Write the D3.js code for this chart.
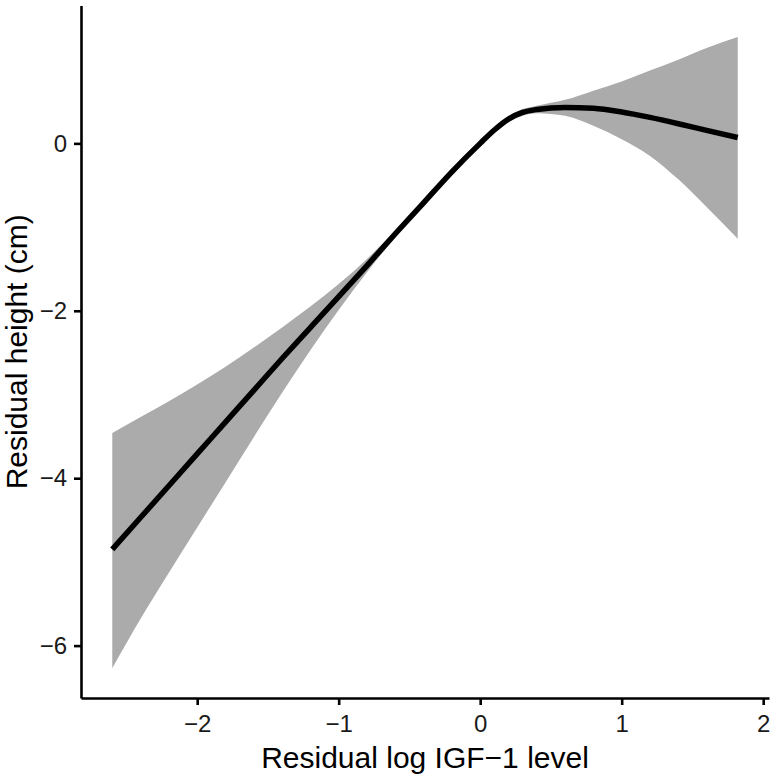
<!DOCTYPE html>
<html>
<head>
<meta charset="utf-8">
<script src="https://cdn.jsdelivr.net/npm/d3@7"></script>
<style>
  body { margin: 0; background: #fff; }
  text { font-family: "Liberation Sans", Arial, sans-serif; }
</style>
</head>
<body>
<div id="chart"></div>
<script>
// values
const xVals = [-2.6, -2.4, -2.2, -2.0, -1.8, -1.6, -1.4, -1.2, -1.0, -0.8, -0.6, -0.4, -0.2, 0, 0.1, 0.2, 0.3, 0.4, 0.6, 0.8, 1.0, 1.2, 1.4, 1.6, 1.82];
const fitVals = [-4.85, -4.47, -4.09, -3.71, -3.33, -2.95, -2.57, -2.20, -1.83, -1.46, -1.08, -0.71, -0.34, 0.0, 0.16, 0.29, 0.37, 0.405, 0.43, 0.42, 0.375, 0.31, 0.235, 0.155, 0.07];
const upperVals = [-3.46, -3.27, -3.08, -2.88, -2.67, -2.44, -2.20, -1.95, -1.68, -1.38, -1.04, -0.68, -0.32, 0.03, 0.19, 0.325, 0.41, 0.45, 0.52, 0.63, 0.74, 0.87, 1.00, 1.14, 1.27];
const lowerVals = [-6.27, -5.68, -5.13, -4.59, -4.05, -3.51, -2.98, -2.47, -1.99, -1.54, -1.12, -0.74, -0.38, -0.03, 0.13, 0.255, 0.33, 0.36, 0.33, 0.21, 0.05, -0.15, -0.43, -0.76, -1.14];
const xTicks = [-2, -1, 0, 1, 2];
const yTicks = [-6, -4, -2, 0];

const width = 776, height = 774;
const margin = {top: 5.6, right: 7, bottom: 76, left: 81};

const svg = d3.select("#chart")
  .append("svg")
  .attr("width", width)
  .attr("height", height);

const data = xVals.map((x, i) => ({x: x, fit: fitVals[i], lo: lowerVals[i], hi: upperVals[i]}));

// ggplot-style padded domains
let xScale = d3.scaleLinear()
  .domain([-2.821, 2.041])
  .range([margin.left, width - margin.right]);

let yScale = d3.scaleLinear()
  .domain([-6.626, 1.646])
  .range([height - margin.bottom, margin.top]);

// confidence band
const band = d3.area()
  .x(d => xScale(d.x))
  .y0(d => yScale(d.lo))
  .y1(d => yScale(d.hi))
  .curve(d3.curveMonotoneX);

svg.append("path")
  .datum(data)
  .attr("d", band)
  .attr("fill", "#ababab");

// fitted curve
const line = d3.line()
  .x(d => xScale(d.x))
  .y(d => yScale(d.fit))
  .curve(d3.curveMonotoneX);

svg.append("path")
  .datum(data)
  .attr("d", line)
  .attr("fill", "none")
  .attr("stroke", "#000")
  .attr("stroke-width", 5.5)
  .attr("stroke-linejoin", "round");

// x axis
const gx = svg.append("g")
  .attr("transform", `translate(0,${height - margin.bottom})`)
  .call(d3.axisBottom(xScale).tickValues(xTicks).tickSize(7).tickPadding(10)
    .tickSizeOuter(0).tickFormat(d => d < 0 ? "\u2212" + Math.abs(d) : d));

// y axis
const gy = svg.append("g")
  .attr("transform", `translate(${margin.left},0)`)
  .call(d3.axisLeft(yScale).tickValues(yTicks).tickSize(7).tickPadding(7)
    .tickSizeOuter(0).tickFormat(d => d < 0 ? "\u2212" + Math.abs(d) : d));

[gx, gy].forEach(g => {
  g.select(".domain").attr("stroke", "#000").attr("stroke-width", 2.6);
  g.selectAll(".tick line").attr("stroke", "#000").attr("stroke-width", 2.6);
  g.selectAll(".tick text")
    .attr("fill", "#1a1a1a")
    .attr("font-size", "24px")
    .attr("font-family", "'Liberation Sans', Arial, sans-serif");
});

// axis titles
svg.append("text")
  .attr("x", (margin.left + width - margin.right) / 2)
  .attr("y", 768)
  .attr("text-anchor", "middle")
  .attr("font-size", "30px")
  .text("Residual log IGF\u22121 level");

svg.append("text")
  .attr("transform", `translate(27,${(margin.top + height - margin.bottom) / 2}) rotate(-90)`)
  .attr("text-anchor", "middle")
  .attr("font-size", "30px")
  .text("Residual height (cm)");
</script>
</body>
</html>
